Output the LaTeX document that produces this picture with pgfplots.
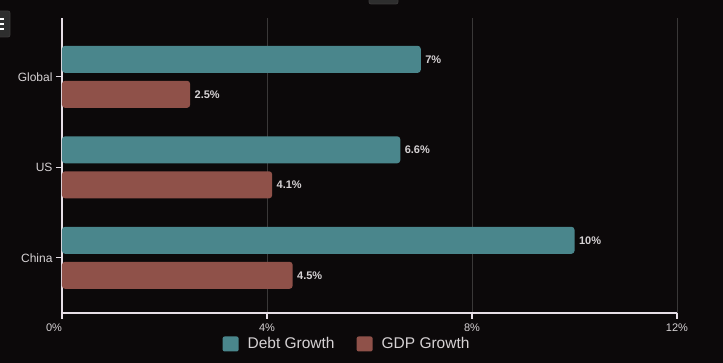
\documentclass[border=0pt]{standalone}
\usepackage{pgfplots}
\pgfplotsset{compat=1.18}
\usepackage{fontspec}
\setmainfont{Liberation Sans}
\definecolor{bg}{HTML}{0C090A}
\definecolor{debt}{HTML}{4A868C}
\definecolor{gdp}{HTML}{8F5149}
\definecolor{txt}{HTML}{D6D2D4}
\definecolor{axl}{HTML}{E6DEE6}
\definecolor{grd}{HTML}{3A3838}
\begin{document}
\begin{tikzpicture}[x=1pt,y=1pt]
\useasboundingbox (0,0) rectangle (723,363);
\clip (0,0) rectangle (723,363);
\fill[bg] (0,0) rectangle (723,363);
% menu button
\draw[fill=black!82!white, draw=grd, line width=0.8pt, rounded corners=2pt] (-6,326) rectangle (10,352);
\foreach \yy in {334,339,344} {\fill[white] (0,\yy-1) rectangle (4,\yy+1);}
\draw[fill=black!82!white, draw=grd, line width=0.8pt, rounded corners=2pt] (369,359) rectangle (398,370);
\begin{axis}[
  at={(62pt,50pt)}, anchor=south west,
  scale only axis, width=615pt, height=295pt,
  xmin=0, xmax=12, ymin=-0.61, ymax=2.65,
  xbar, bar width=27pt,
  axis x line=bottom, axis y line=left,
  axis line style={axl, line width=1.6pt, -},
  xtick={0,4,8,12},
  /pgf/number format/assume math mode=true,
  xticklabel={\pgfmathparse{\tick==0?1:0}\ifnum\pgfmathresult=1 \hspace*{-16pt}\fi\pgfmathprintnumber{\tick}\%},
  ytick={0,1,2}, yticklabels={China,US,Global},
  tick style={axl, line width=1.2pt},
  tick align=outside, major tick length=6pt,
  xmajorgrids, ymajorgrids=false,
  grid style={grd, line width=0.8pt},
  x tick label style={text=txt, font=\fontsize{11}{13}\selectfont, yshift=-1pt},
  y tick label style={text=txt, font=\fontsize{12}{14}\selectfont},
  nodes near coords={\pgfmathprintnumber{\pgfplotspointmeta}\%},
  point meta=x,
  nodes near coords style={text=txt, font=\bfseries\fontsize{11}{13}\selectfont, anchor=west, xshift=1pt},
  legend image code/.code={\fill[#1, rounded corners=2pt] (0pt,-7.5pt) rectangle (16pt,7.5pt);},
  legend style={draw=none, fill=none, text=txt, font=\fontsize{15.5}{18}\selectfont,
    legend columns=2, at={(0.4635,-0.105)}, anchor=center,
    /tikz/every odd column/.append style={column sep=7pt},
    /tikz/every even column/.append style={column sep=20pt}},
]
\addplot[fill=debt, draw=none, bar shift=17.5pt, rounded corners=3pt] coordinates {(7,2) (6.6,1) (10,0)};
\addlegendentry{Debt Growth}
\addplot[fill=gdp, draw=none, bar shift=-17.5pt, rounded corners=3pt] coordinates {(2.5,2) (4.1,1) (4.5,0)};
\addlegendentry{GDP Growth}
\end{axis}
\end{tikzpicture}
\end{document}
